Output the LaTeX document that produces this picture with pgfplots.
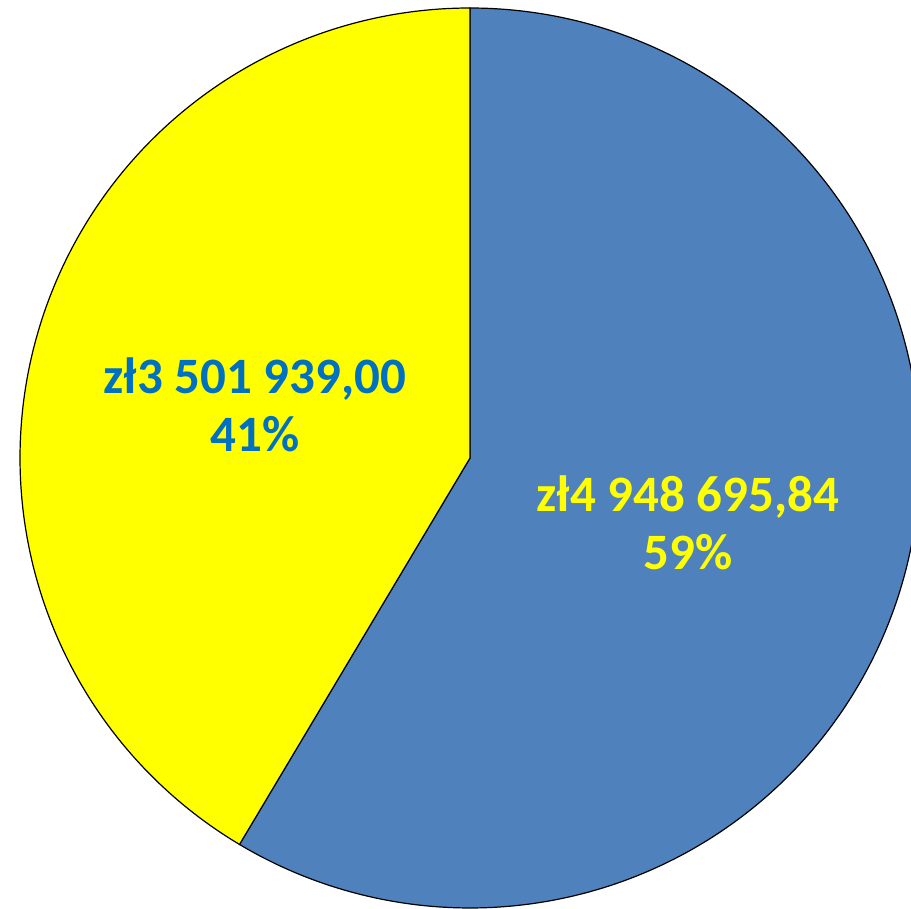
\documentclass[border=0pt]{standalone}
\usepackage{pgfplots}
\pgfplotsset{compat=1.18}
\usepackage{fontspec}
\setmainfont{Carlito}
\definecolor{pieblue}{HTML}{4F81BD}
\definecolor{pieyellow}{HTML}{FFFF00}
\definecolor{lblblue}{HTML}{0070C0}
\def\va{4948695.84}
\def\vb{3501939.00}
\edef\aend{\fpeval{90-360*\va/(\va+\vb)}}
\edef\bend{\fpeval{\aend-360*\vb/(\va+\vb)}}
\begin{document}
\begin{tikzpicture}
\begin{axis}[
  scale only axis,
  width=455.5pt, height=454.5pt,
  xmin=-470, xmax=441, ymin=-451, ymax=458,
  axis lines=none,
  clip=true,
]
\addplot[fill=pieblue, draw=black, line width=0.6pt, domain=\aend:90, samples=300]
  ({450*cos(x)},{450*sin(x)}) -- (axis cs:0,0) -- cycle;
\addplot[fill=pieyellow, draw=black, line width=0.6pt, domain=\bend:\aend, samples=300]
  ({450*cos(x)},{450*sin(x)}) -- (axis cs:0,0) -- cycle;
\node[align=center, text=lblblue, font=\bfseries\fontsize{25.5}{29}\selectfont] at (axis cs:-215,53) {zł3 501 939,00\\41\%};
\node[align=center, text=pieyellow, font=\bfseries\fontsize{25.5}{29}\selectfont] at (axis cs:218,-65) {zł4 948 695,84\\59\%};
\end{axis}
\pgfresetboundingbox
\path[use as bounding box] (current axis.south west) rectangle (current axis.north east);
\end{tikzpicture}
\end{document}
